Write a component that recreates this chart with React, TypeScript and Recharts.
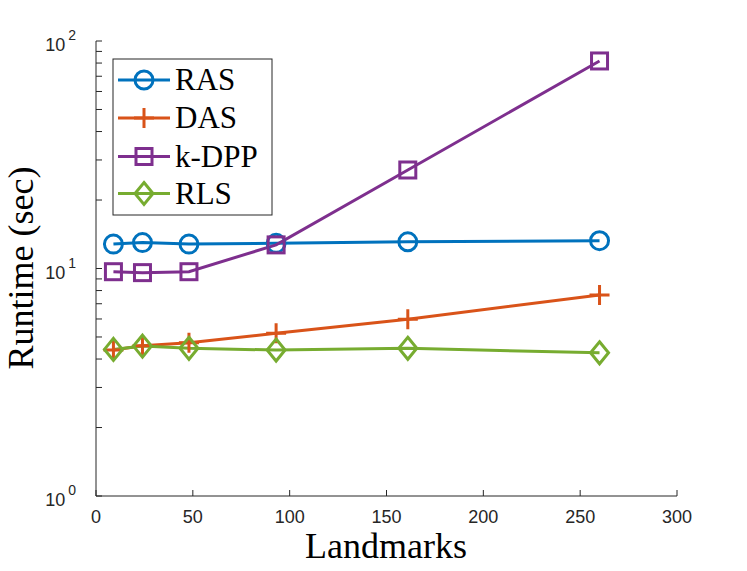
import React from 'react'
import { LineChart, Line, XAxis, YAxis } from 'recharts'

const landmarks = [9, 24, 48, 93, 161, 260]
const ras = [12.8, 13.0, 12.8, 12.9, 13.1, 13.25]
const das = [4.38, 4.58, 4.72, 5.19, 5.98, 7.65]
const kdpp = [9.68, 9.59, 9.68, 12.7, 27.1, 81.7]
const rls = [4.41, 4.56, 4.46, 4.38, 4.46, 4.26]

const xTicks = [0, 50, 100, 150, 200, 250, 300]
const yTicks = [1, 2, 3, 4, 5, 6, 7, 8, 9, 10, 20, 30, 40, 50, 60, 70, 80, 90, 100]
const yMajor: Record<number, string> = { 1: '0', 10: '1', 100: '2' }

const COLORS = { ras: '#0072BD', das: '#D95319', kdpp: '#7E2F8E', rls: '#77AC30' }
const AXIS = '#262626'
const SERIF = '"Liberation Serif", "Times New Roman", serif'
const SANS = '"Liberation Sans", Arial, sans-serif'

const data = landmarks.map((x, i) => ({
  x, ras: ras[i], das: das[i], kdpp: kdpp[i], rls: rls[i]
}))

type Shape = 'circle' | 'plus' | 'square' | 'diamond'

function Marker({ cx, cy, shape, color }: { cx: number, cy: number, shape: Shape, color: string }) {
  const sw = 3
  if (shape === 'circle')
    return <circle cx={cx} cy={cy} r={9} fill="none" stroke={color} strokeWidth={sw} />
  if (shape === 'plus')
    return <path d={`M${cx - 10},${cy}H${cx + 10}M${cx},${cy - 10}V${cy + 10}`} stroke={color} strokeWidth={sw} fill="none" />
  if (shape === 'square')
    return <rect x={cx - 8} y={cy - 8} width={16} height={16} fill="none" stroke={color} strokeWidth={sw} />
  return <path d={`M${cx},${cy - 11}L${cx + 9},${cy}L${cx},${cy + 11}L${cx - 9},${cy}Z`} fill="none" stroke={color} strokeWidth={sw} />
}

const dot = (shape: Shape, color: string) => (p: any) =>
  <Marker key={p.index} cx={p.cx} cy={p.cy} shape={shape} color={color} />

function YTick(props: any) {
  const { x, y, payload } = props
  const sup = yMajor[payload.value]
  return (
    <g>
      <line x1={x} x2={x + 6} y1={y} y2={y} stroke={AXIS} strokeWidth={1} />
      {sup !== undefined && (
        <text x={x - 20} y={y + 10} textAnchor="end" fontFamily={SANS} fontSize={18} fill={AXIS}>
          10
          <tspan dx={3} dy={-11} fontSize={14}>{sup}</tspan>
        </text>
      )}
    </g>
  )
}

function XTick(props: any) {
  const { x, y, payload } = props
  return (
    <g>
      <line x1={x} x2={x} y1={y} y2={y - 6} stroke={AXIS} strokeWidth={1} />
      <text x={x} y={y + 27} textAnchor="middle" fontFamily={SANS} fontSize={18} fill={AXIS}>
        {payload.value}
      </text>
    </g>
  )
}

const legendItems: { name: string, shape: Shape, color: string }[] = [
  { name: 'RAS', shape: 'circle', color: COLORS.ras },
  { name: 'DAS', shape: 'plus', color: COLORS.das },
  { name: 'k-DPP', shape: 'square', color: COLORS.kdpp },
  { name: 'RLS', shape: 'diamond', color: COLORS.rls },
]

function LegendBox() {
  const rows = [21, 59, 97.5, 134.5]
  return (
    <svg width={161} height={158} style={{ position: 'absolute', left: 112, top: 58 }}>
      <rect x={1} y={1} width={159} height={156} fill="#fff" stroke={AXIS} strokeWidth={1} />
      {legendItems.map((it, i) => (
        <g key={it.name}>
          <line x1={6} x2={58} y1={rows[i] + 1} y2={rows[i] + 1} stroke={it.color} strokeWidth={3} />
          <Marker cx={32} cy={rows[i] + 1} shape={it.shape} color={it.color} />
          <text x={63} y={rows[i] + 11} fontFamily={SERIF} fontSize={31} fill="#000">{it.name}</text>
        </g>
      ))}
    </svg>
  )
}

export default function App() {
  return (
    <div style={{ position: 'absolute', left: 0, top: 0, width: 747, height: 571, background: '#fff' }}>
      <LineChart width={747} height={571} data={data} margin={{ top: 41, right: 70, bottom: 0, left: 0 }}>
        <XAxis
          dataKey="x" type="number" domain={[0, 300]} ticks={xTicks}
          height={75} tickSize={0} tickMargin={0} tick={<XTick />}
          axisLine={{ stroke: AXIS, strokeWidth: 1 }} tickLine={false}
          label={{
            content: () => (
              <text x={386} y={558} textAnchor="middle" fontFamily={SERIF} fontSize={36} fill="#000">Landmarks</text>
            )
          }}
        />
        <YAxis
          scale="log" domain={[1, 100]} ticks={yTicks} allowDataOverflow
          width={96} tickSize={0} tickMargin={0} tick={<YTick />} interval={0}
          axisLine={{ stroke: AXIS, strokeWidth: 1 }} tickLine={false}
          label={{
            content: () => (
              <text x={33} y={268} textAnchor="middle" fontFamily={SERIF} fontSize={36} fill="#000"
                transform="rotate(-90, 33, 268)">Runtime (sec)</text>
            )
          }}
        />
        <Line dataKey="ras" stroke={COLORS.ras} strokeWidth={3} dot={dot('circle', COLORS.ras)} isAnimationActive={false} />
        <Line dataKey="das" stroke={COLORS.das} strokeWidth={3} dot={dot('plus', COLORS.das)} isAnimationActive={false} />
        <Line dataKey="kdpp" stroke={COLORS.kdpp} strokeWidth={3} dot={dot('square', COLORS.kdpp)} isAnimationActive={false} />
        <Line dataKey="rls" stroke={COLORS.rls} strokeWidth={3} dot={dot('diamond', COLORS.rls)} isAnimationActive={false} />
      </LineChart>
      <LegendBox />
    </div>
  )
}
